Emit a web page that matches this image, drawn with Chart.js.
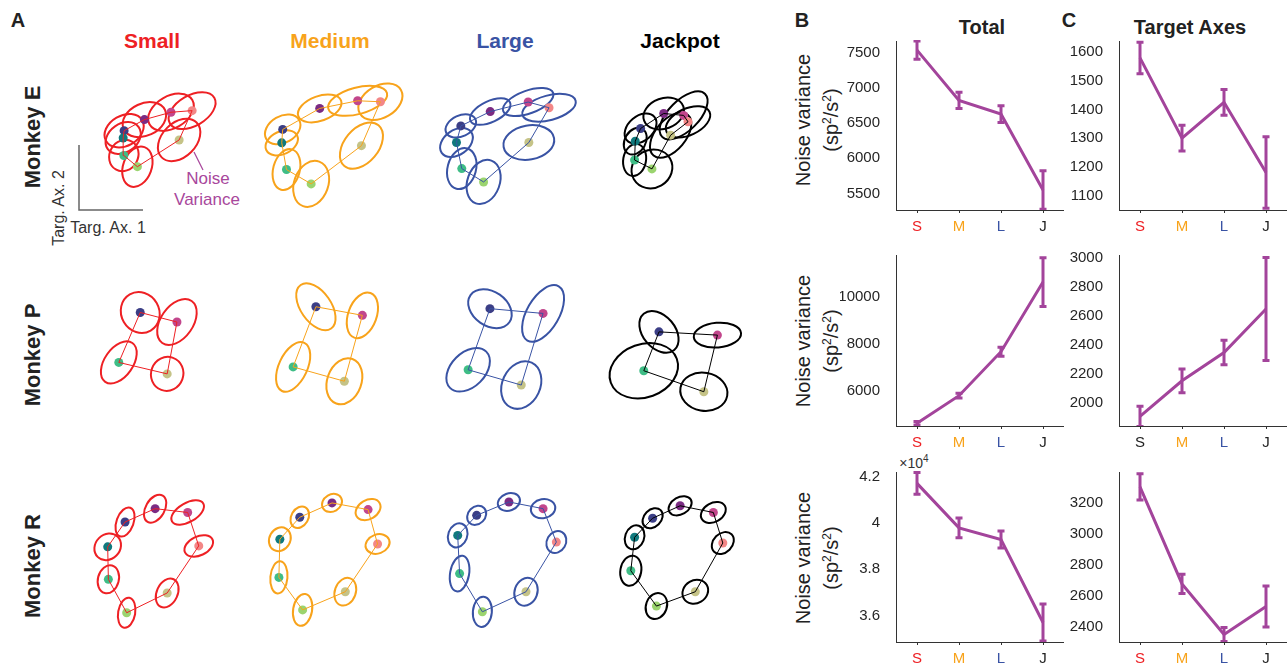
<!DOCTYPE html>
<html>
<head>
<meta charset="utf-8">
<script src="https://cdn.jsdelivr.net/npm/chart.js@4.4.0/dist/chart.umd.min.js"></script>
<style>
  body { margin: 0; background: #fff; width: 1287px; height: 665px; position: relative; overflow: hidden;
         font-family: "Liberation Sans", Arial, Helvetica, sans-serif; color: #222; }
  canvas { position: absolute; }
  .t { position: absolute; white-space: nowrap; transform: translate(-50%, -50%); line-height: 1; }
  .b { font-weight: bold; }
  .rot { transform: translate(-50%, -50%) rotate(-90deg); }
  svg { position: absolute; left: 0; top: 0; }
</style>
</head>
<body>

<div class="t b" style="left:18px;top:20px;font-size:20px">A</div>
<div class="t b" style="left:802px;top:20px;font-size:20px">B</div>
<div class="t b" style="left:1069px;top:20px;font-size:20px">C</div>

<div class="t b" style="left:152px;top:40px;font-size:21px;color:#ee2024">Small</div>
<div class="t b" style="left:330px;top:40px;font-size:21px;color:#f8a31b">Medium</div>
<div class="t b" style="left:505px;top:40px;font-size:21px;color:#3953a4">Large</div>
<div class="t b" style="left:680px;top:40px;font-size:21px;color:#000">Jackpot</div>

<div class="t b rot" style="left:33px;top:137px;font-size:22px">Monkey E</div>
<div class="t b rot" style="left:33px;top:355px;font-size:22px">Monkey P</div>
<div class="t b rot" style="left:33px;top:566px;font-size:22px">Monkey R</div>

<div class="t b" style="left:982px;top:27px;font-size:20px">Total</div>
<div class="t b" style="left:1190px;top:27px;font-size:20px">Target Axes</div>

<div class="t rot" style="left:59px;top:208px;font-size:16px;color:#333">Targ. Ax. 2</div>
<div class="t" style="left:108px;top:228px;font-size:16px;color:#333">Targ. Ax. 1</div>
<div class="t" style="left:208px;top:178px;font-size:17px;color:#a8479c">Noise</div>
<div class="t" style="left:207px;top:199px;font-size:17px;color:#a8479c">Variance</div>

<div class="t rot" style="left:817px;top:120px;font-size:20px;line-height:24px;text-align:center">Noise variance<br>(sp<sup style="font-size:12px">2</sup>/s<sup style="font-size:12px">2</sup>)</div>
<div class="t rot" style="left:817px;top:341px;font-size:20px;line-height:24px;text-align:center">Noise variance<br>(sp<sup style="font-size:12px">2</sup>/s<sup style="font-size:12px">2</sup>)</div>
<div class="t rot" style="left:817px;top:558px;font-size:20px;line-height:24px;text-align:center">Noise variance<br>(sp<sup style="font-size:12px">2</sup>/s<sup style="font-size:12px">2</sup>)</div>
<div class="t" style="left:914px;top:462px;font-size:14px;color:#333">&times;10<sup style="font-size:10px">4</sup></div>

<svg width="1287" height="665">
  <polyline points="79,145 79,210 143,210" fill="none" stroke="#666" stroke-width="1.5"/>
  <line x1="194" y1="152" x2="203" y2="170" stroke="#a8479c" stroke-width="1.2"/>
</svg>

<script>
// ---- panel A: target means and noise ellipses ----
// each row: [x, y (measured downward), semi-major, semi-minor, tilt in degrees]
const dotColors = { navy: '#3b3e86', purple: '#7b2b83', magenta: '#c2468c', salmon: '#f38787',
                    olive: '#c5c387', lightgreen: '#9bd46f', green: '#3fbd86', teal: '#10797d' };
const ring8 = ['navy', 'purple', 'magenta', 'salmon', 'olive', 'lightgreen', 'green', 'teal'];
const ring4 = ['navy', 'magenta', 'olive', 'green'];

const eSmall   = [[52.3,69.3,22,16,30],[73.7,57.7,24,17,25],[101.7,50,26,17,30],[124,48.3,27,16,30],[110.3,79,26,18,45],[66.3,107,22,15,70],[52,95.3,17,15,60],[51.3,77,20,15,35]];
const eMedium  = [[35,68,20,14,30],[74,46,24,13,20],[114,38,32,14,15],[138,39,25,17,30],[118,85,28,18,50],[65,125,25,18,70],[39,110,22,14,75],[34,82,18,12,25]];
const eLarge   = [[38.3,64.3,17,11,25],[69.3,49.3,23,11,25],[109.3,39.3,28,12,20],[131.3,45.3,29,13,15],[110,81.7,27,18,10],[62.3,123,24,17,70],[39.3,109,22,15,75],[33.7,81.7,19,13,35]];
const eJackpot = [[43.3,67,19,13,40],[67.7,51.3,22,16,20],[88.7,53.3,32,16,45],[93.3,60,25,14,25],[75,74,28,16,50],[55.3,109.3,22,20,30],[37,100,17,12,80],[37.7,80.3,15,11,60]];

const pSmall   = [[69.3,45,22,20,-60],[108,55,27,17,55],[97.7,109.3,18,17,70],[46.7,97.3,25,15,55]];
const pMedium  = [[70,39,28,16,-55],[119,48,25,15,70],[100,117,25,18,70],[46,102,28,15,65]];
const pLarge   = [[69,41,25,18,-35],[125,46,33,17,60],[102,121,26,20,65],[46,105,27,18,45]];
const pJackpot = [[62.7,65.3,25,17,-50],[124.3,68.7,25,13,5],[110,128,25,20,-10],[46.7,106,37,28,20]];

const rSmall   = [[53.3,55,16,9,70],[85,41,16,10,60],[119.3,45,19,10,30],[131,80,16,10,25],[97.7,129.3,16,11,65],[55,150,16,9,80],[35.7,115,15,11,75],[35,81,15,13,45]];
const rMedium  = [[53,50,12,9,60],[87,35,11,9,30],[125,42,14,10,30],[135,78,13,10,20],[101,128,15,11,70],[56,147,17,10,80],[31,113,17,9,85],[32,73,13,11,60]];
const rLarge   = [[55,48,11,9,45],[89,34,12,9,20],[125,41,13,10,10],[139,76,12,10,60],[107,128,15,12,70],[61,149,16,10,85],[37,109,19,10,80],[35,69,13,10,70]];
const rJackpot = [[56,51,12,9,45],[85,38,13,9,30],[120,45,14,10,30],[130,77,13,10,45],[101,128,14,12,30],[60,143,14,11,70],[33,106,16,11,80],[37,71,13,10,70]];

const sizeColors = ['#ee2024', '#f8a31b', '#3953a4', '#000000'];

// ---- panels B and C: noise variance per reward size ----
const conds = ['S', 'M', 'L', 'J'];
const totE = [7540, 6825, 6630, 5550],   totEErr = [130, 115, 120, 275];
const axE  = [1580, 1300, 1425, 1180],   axEErr  = [55, 45, 45, 125];
const totP = [4650, 5815, 7675, 10620],  totPErr = [70, 100, 190, 1030];
const axP  = [1910, 2155, 2350, 2650],   axPErr  = [70, 82, 85, 355];
const totR = [41700, 39780, 39280, 35700], totRErr = [470, 430, 370, 800];
const axR  = [3300, 2675, 2350, 2530],   axRErr  = [85, 62, 45, 132];

const totETicks = [5500, 6000, 6500, 7000, 7500];
const axETicks  = [1100, 1200, 1300, 1400, 1500, 1600];
const totPTicks = [6000, 8000, 10000];
const axPTicks  = [2000, 2200, 2400, 2600, 2800, 3000];
const totRTicks = [36000, 38000, 40000, 42000];
const axRTicks  = [2400, 2600, 2800, 3000, 3200];

const labelColors  = ['#ee2024', '#f8a31b', '#3953a4', '#222222'];
const labelColorsP = ['#222222', '#f8a31b', '#3953a4', '#222222'];

const PURPLE = '#a3449b';
const FONT = '"Liberation Sans", Arial, Helvetica, sans-serif';

function ellipsePlugin(rows, color) {
  return {
    id: 'ellipses',
    beforeDatasetsDraw(chart) {
      const { ctx, scales: { x, y } } = chart;
      ctx.save();
      ctx.strokeStyle = color;
      ctx.lineWidth = 2;
      rows.forEach(r => {
        const cx = x.getPixelForValue(r[0]), cy = y.getPixelForValue(r[1]);
        const ra = Math.abs(x.getPixelForValue(r[0] + r[2]) - cx);
        const rb = Math.abs(x.getPixelForValue(r[0] + r[3]) - cx);
        ctx.beginPath();
        ctx.ellipse(cx, cy, ra, rb, -r[4] * Math.PI / 180, 0, 2 * Math.PI);
        ctx.stroke();
      });
      ctx.restore();
    }
  };
}

function cellChart(rows, names, color, left, top) {
  const cv = document.createElement('canvas');
  cv.width = 175; cv.height = 200;
  cv.style.left = left + 'px'; cv.style.top = top + 'px';
  document.body.appendChild(cv);
  const pts = rows.map(r => ({ x: r[0], y: r[1] }));
  new Chart(cv, {
    type: 'scatter',
    data: {
      datasets: [
        { data: pts.concat([pts[0]]), showLine: true, borderColor: color, borderWidth: 1, pointRadius: 0 },
        { data: pts, pointRadius: 4.5, pointBorderWidth: 0, pointBackgroundColor: names.map(n => dotColors[n]) }
      ]
    },
    options: {
      responsive: false, animation: false, events: [],
      layout: { padding: 0 },
      plugins: { legend: { display: false }, tooltip: { enabled: false } },
      scales: {
        x: { display: false, min: 0, max: 175 },
        y: { display: false, min: 0, max: 200, reverse: true }
      }
    },
    plugins: [ellipsePlugin(rows, color)]
  });
}

const colX = [70, 245, 420, 595];
[[eSmall, eMedium, eLarge, eJackpot, ring8, 60],
 [pSmall, pMedium, pLarge, pJackpot, ring4, 265],
 [rSmall, rMedium, rLarge, rJackpot, ring8, 465]].forEach(row => {
  for (let c = 0; c < 4; c++) cellChart(row[c], row[4], sizeColors[c], colX[c], row[5]);
});

function errPlugin(errs) {
  return {
    id: 'errbars',
    afterDatasetsDraw(chart) {
      const { ctx, chartArea: a, scales: { x, y } } = chart;
      const vals = chart.data.datasets[0].data;
      ctx.save();
      ctx.beginPath();
      ctx.rect(a.left, a.top - 1, a.right - a.left, a.bottom - a.top + 1);
      ctx.clip();
      ctx.strokeStyle = PURPLE;
      ctx.lineWidth = 3;
      vals.forEach((v, i) => {
        const px = x.getPixelForValue(i);
        const t = y.getPixelForValue(v + errs[i]), b = y.getPixelForValue(v - errs[i]);
        ctx.beginPath();
        ctx.moveTo(px, t); ctx.lineTo(px, b);
        ctx.moveTo(px - 3.5, t); ctx.lineTo(px + 3.5, t);
        ctx.moveTo(px - 3.5, b); ctx.lineTo(px + 3.5, b);
        ctx.stroke();
      });
      ctx.restore();
    }
  };
}

function lineChart(vals, errs, ymin, ymax, ticks, xColors, plotLeft, plotTop, plotBottom, fmt) {
  // padTop must exceed half a tick label plus tick padding, or Chart.js pushes the plot down
  const yW = 56, padTop = 20, xH = 28, plotW = 168;
  const cv = document.createElement('canvas');
  cv.width = yW + plotW; cv.height = padTop + (plotBottom - plotTop) + xH;
  cv.style.left = (plotLeft - yW) + 'px'; cv.style.top = (plotTop - padTop) + 'px';
  document.body.appendChild(cv);
  new Chart(cv, {
    type: 'line',
    data: {
      labels: conds,
      datasets: [{ data: vals, borderColor: PURPLE, borderWidth: 3, pointRadius: 0, tension: 0 }]
    },
    options: {
      responsive: false, animation: false, events: [],
      layout: { padding: { top: padTop, right: 0, bottom: 0, left: 0 } },
      plugins: { legend: { display: false }, tooltip: { enabled: false } },
      scales: {
        x: {
          offset: true,
          border: { display: true, color: '#333', width: 1 },
          grid: { drawOnChartArea: false, drawTicks: true, tickLength: 3, color: '#333' },
          ticks: { padding: 5, color: c => xColors[c.index], font: { family: FONT, size: 15 } },
          afterFit: s => { s.height = xH; }
        },
        y: {
          min: ymin, max: ymax,
          border: { display: true, color: '#333', width: 1 },
          grid: { display: false },
          afterBuildTicks: s => { s.ticks = ticks.map(v => ({ value: v })); },
          ticks: { padding: 8, color: '#262626', font: { family: FONT, size: 15 },
                   callback: v => fmt ? fmt(v) : String(v) },
          afterFit: s => { s.width = yW; }
        }
      }
    },
    plugins: [errPlugin(errs)]
  });
}

const bLeft = 896, cLeft = 1119;
lineChart(totE, totEErr, 5265, 7670, totETicks, labelColors, bLeft, 41, 210);
lineChart(axE, axEErr, 1049, 1639, axETicks, labelColors, cLeft, 41, 210);
lineChart(totP, totPErr, 4533, 11763, totPTicks, labelColors, bLeft, 255, 426);
lineChart(axP, axPErr, 1843, 3023, axPTicks, labelColorsP, cLeft, 255, 426);
lineChart(totR, totRErr, 34860, 42190, totRTicks, labelColors, bLeft, 472, 642, v => String(v / 10000));
lineChart(axR, axRErr, 2301, 3396, axRTicks, labelColors, cLeft, 472, 642);
</script>
</body>
</html>
